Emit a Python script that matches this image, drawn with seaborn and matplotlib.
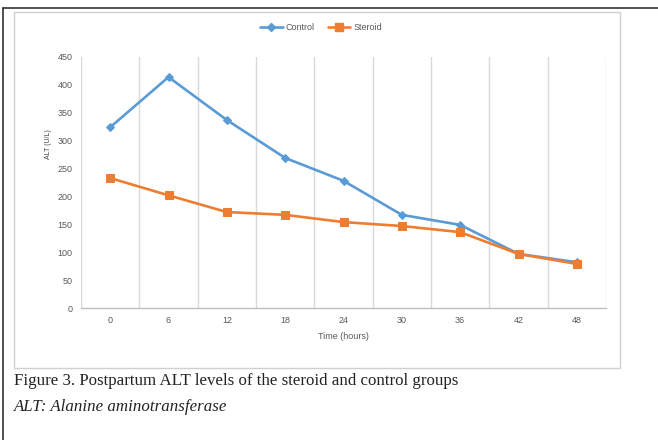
import matplotlib
matplotlib.use("Agg")
import matplotlib.pyplot as plt
import seaborn as sns
import pandas as pd
from matplotlib.patches import Rectangle
from matplotlib.lines import Line2D

hours = ["0", "6", "12", "18", "24", "30", "36", "42", "48"]
control = [324, 414, 337, 269, 228, 167, 149, 97, 82]
steroid = [233, 202, 172, 167, 154, 147, 136, 97, 79]
y_ticks = [0, 50, 100, 150, 200, 250, 300, 350, 400, 450]

W, H = 658, 440
sns.set_theme(style="white")
plt.rcParams["font.family"] = ["Liberation Sans", "DejaVu Sans"]

fig = plt.figure(figsize=(W / 100, H / 100), dpi=100)
fig.patch.set_facecolor("white")

def fx(px):
    return px / W

def fy(py):
    return 1 - py / H

ax = fig.add_axes([fx(81), fy(308), fx(606) - fx(81), fy(57) - fy(308)])

pos = list(range(len(hours)))
df = pd.DataFrame({
    "pos": pos * 2,
    "value": control + steroid,
    "group": ["Control"] * len(hours) + ["Steroid"] * len(hours),
})

blue = "#5B9BD5"
orange = "#ED7D31"
sns.lineplot(data=df[df.group == "Control"], x="pos", y="value", ax=ax,
             color=blue, linewidth=1.9, marker="D", markersize=4,
             markeredgecolor=blue, legend=False)
sns.lineplot(data=df[df.group == "Steroid"], x="pos", y="value", ax=ax,
             color=orange, linewidth=1.9, marker="s", markersize=6,
             markeredgecolor=orange, legend=False)

ax.set_xlim(-0.5, len(hours) - 0.5)
ax.set_ylim(0, 450)
ax.set_xticks(pos)
ax.set_xticklabels(hours)
ax.set_yticks(y_ticks)
ax.tick_params(axis="both", labelsize=6.5, colors="#595959", length=0, pad=6)
for b in range(len(hours) + 1):
    ax.axvline(b - 0.5, color="#D9D9D9", linewidth=1, zorder=0)
for s in ["top", "left", "right"]:
    ax.spines[s].set_visible(False)
ax.spines["bottom"].set_color("#BFBFBF")
ax.spines["bottom"].set_linewidth(1)
ax.set_xlabel("Time (hours)", fontsize=6.5, color="#595959", labelpad=5)
ax.set_ylabel("")
fig.text(fx(48), fy(144), "ALT (U/L)", rotation=90, fontsize=5, color="#404040",
         ha="center", va="center")

handles = [
    Line2D([], [], color=blue, linewidth=1.9, marker="D", markersize=4),
    Line2D([], [], color=orange, linewidth=1.9, marker="s", markersize=6),
]
fig.legend(handles, ["Control", "Steroid"], loc="center",
           bbox_to_anchor=(fx(321), fy(28)), ncol=2, frameon=False,
           fontsize=6.5, handlelength=2.5, columnspacing=1.5, handletextpad=0.3,
           labelcolor="#595959")

# chart area border
fig.add_artist(Rectangle((fx(14), fy(368)), fx(620) - fx(14), fy(12) - fy(368),
                         transform=fig.transFigure, fill=False,
                         edgecolor="#D0D0D0", linewidth=1))
# outer frame lines (left, top)
fig.add_artist(Line2D([fx(3), fx(3)], [0, fy(8)], transform=fig.transFigure,
                      color="#333333", linewidth=1.2))
fig.add_artist(Line2D([fx(3), 1], [fy(8), fy(8)], transform=fig.transFigure,
                      color="#333333", linewidth=1.2))

fig.text(fx(14), fy(381), "Figure 3. Postpartum ALT levels of the steroid and control groups",
         fontsize=12.2, family=["Liberation Serif", "DejaVu Serif"], color="#222222",
         ha="left", va="center")
fig.text(fx(14), fy(407), "ALT: Alanine aminotransferase",
         fontsize=12.2, family=["Liberation Serif", "DejaVu Serif"], style="italic",
         color="#222222", ha="left", va="center")

fig.savefig("out.png", dpi=100)
